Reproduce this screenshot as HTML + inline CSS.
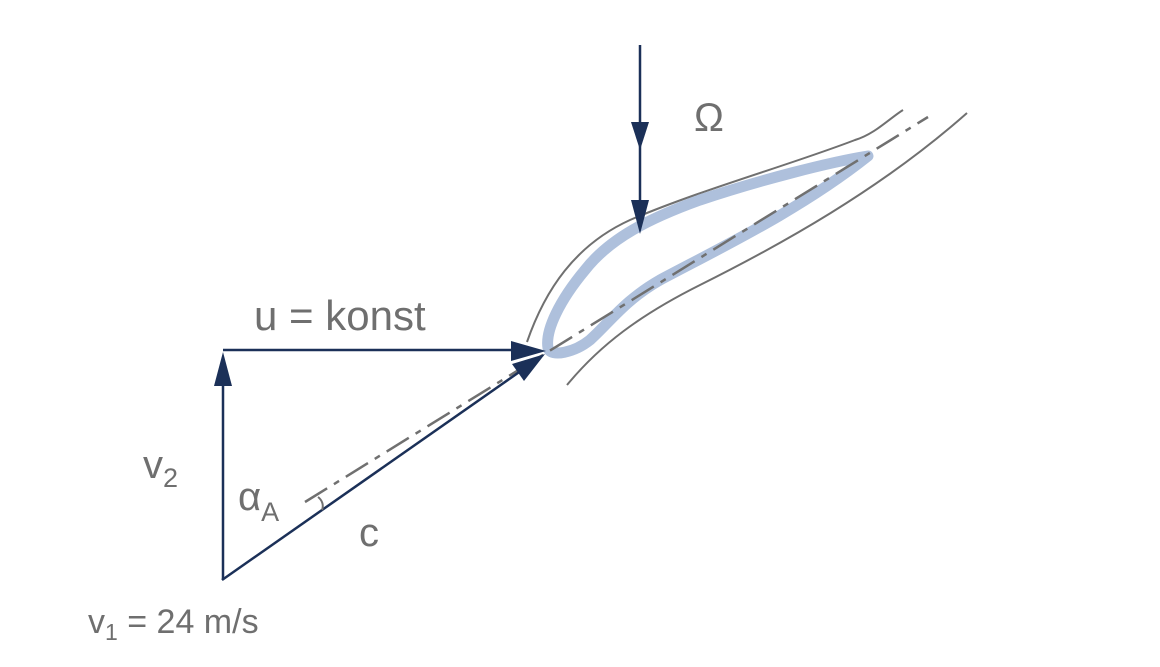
<!DOCTYPE html>
<html><head><meta charset="utf-8"><style>
html,body{margin:0;padding:0;background:#fff;}
svg{display:block;}
text{font-family:"Liberation Sans","DejaVu Sans",sans-serif;fill:#6f6f6f;}
</style></head><body>
<svg width="1160" height="667" viewBox="0 0 1160 667" xmlns="http://www.w3.org/2000/svg">
<!-- flow channel lines -->
<path d="M527,342 C545,290 575,245 630,220 C700,190 790,165 855,140 C875,134 890,118 903,110" fill="none" stroke="#707070" stroke-width="2"/>
<path d="M567,385 C600,345 640,315 700,285 C780,245 880,190 967,113" fill="none" stroke="#707070" stroke-width="2"/>
<!-- blade -->
<path d="M868,156 C830,162 760,180 700,200 C650,218 610,238 585,270 C560,300 545,330 548,348 C551,358 575,352 590,340 C610,322 625,300 660,280 C720,248 800,210 868,156 Z" fill="none" stroke="#aec0dc" stroke-width="11" stroke-linejoin="round"/>
<!-- dash-dot center line -->
<line x1="305" y1="502" x2="928" y2="117" stroke="#707070" stroke-width="2.5" stroke-dasharray="26,8,6,8"/>
<!-- triangle -->
<line x1="223" y1="580" x2="223" y2="380" stroke="#1b3058" stroke-width="2.5"/>
<polygon points="223,352 214,386 232,386" fill="#1b3058"/>
<line x1="223" y1="350" x2="515" y2="350" stroke="#1b3058" stroke-width="2.5"/>
<polygon points="546,351 511,341 511,361" fill="#1b3058"/>
<line x1="222" y1="580" x2="525" y2="368" stroke="#1b3058" stroke-width="2.5"/>
<polygon points="545,354 512,364 524,381" fill="#1b3058"/>
<!-- angle mark -->
<path d="M318,497 C322,500 324,505 322,510" fill="none" stroke="#707070" stroke-width="2"/>
<!-- omega arrow -->
<line x1="640" y1="45" x2="640" y2="210" stroke="#1b3058" stroke-width="2.5"/>
<polygon points="640,150 631,122 649,122" fill="#1b3058"/>
<polygon points="640,234 631,200 649,200" fill="#1b3058"/>
<!-- labels -->
<text x="694" y="131" font-size="40">Ω</text>
<text x="254" y="330" font-size="42">u = konst</text>
<text x="143" y="478" font-size="40">v<tspan font-size="27" dy="9">2</tspan></text>
<text x="238" y="510" font-size="40">α<tspan font-size="27" dy="11">A</tspan></text>
<text x="359" y="546" font-size="40">c</text>
<text x="88" y="633" font-size="34">v<tspan font-size="23" dy="7">1</tspan><tspan dy="-7"> = 24 m/s</tspan></text>
</svg>
</body></html>
